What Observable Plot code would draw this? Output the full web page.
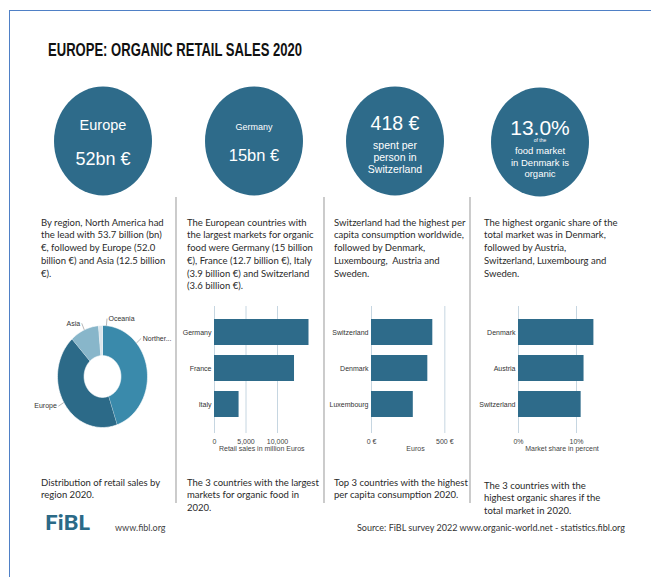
<!DOCTYPE html>
<html><head><meta charset="utf-8">
<script src="https://cdn.jsdelivr.net/npm/d3@7"></script>
<script src="https://cdn.jsdelivr.net/npm/@observablehq/plot@0.6"></script>
<style>
html,body{margin:0;padding:0;background:#fff;}
#page{position:relative;width:651px;height:577px;overflow:hidden;background:#fff;}
.frame{position:absolute;left:9px;top:10px;width:800px;height:800px;border:1.5px solid #4f80c6;box-sizing:border-box;}
.para{position:absolute;font-family:Lato,"Open Sans",sans-serif;font-size:9.5px;line-height:12.8px;color:#2a2a2a;white-space:pre;}
.chart{position:absolute;}
</style></head><body><div id="page"><div class="frame"></div></div>
<script>
// ---------- data ----------
const regions = ["Northern America", "Europe", "Asia", "Oceania"];
const regionSales = [53.7, 52.0, 12.5, 1.7]; // billion €
const marketCountries = ["Germany", "France", "Italy"];
const marketSales = [15000, 12700, 3900]; // million €
const marketTicks = [0, 5000, 10000];
const perCapitaCountries = ["Switzerland", "Denmark", "Luxembourg"];
const perCapita = [418, 384, 285]; // €
const perCapitaTicks = [0, 500];
const shareCountries = ["Denmark", "Austria", "Switzerland"];
const shares = [13.0, 11.3, 10.8]; // %
const shareTicks = [0, 10];
const kpiEurope = 52, kpiGermany = 15, kpiSwiss = 418, kpiDenmark = 13.0;

const title = "EUROPE: ORGANIC RETAIL SALES 2020";
const paragraphs = [
  ["By region, North America had", "the lead with 53.7 billion (bn)", "€, followed by Europe (52.0", "billion €) and Asia (12.5 billion", "€)."],
  ["The European countries with", "the largest markets for organic", "food were Germany (15 billion", "€), France (12.7 billion €), Italy", "(3.9 billion €) and Switzerland", "(3.6 billion €)."],
  ["Switzerland had the highest per", "capita consumption worldwide,", "followed by Denmark,", "Luxembourg,  Austria and", "Sweden."],
  ["The highest organic share of the", "total market was in Denmark,", "followed by Austria,", "Switzerland, Luxembourg and", "Sweden."]
];
const captions = [
  ["Distribution of retail sales by", "region 2020."],
  ["The 3 countries with the largest", "markets for organic food in", "2020."],
  ["Top 3 countries with the highest", "per capita consumption 2020."],
  ["The 3 countries with the", "highest organic shares if the", "total market in 2020."]
];
const source = "Source: FiBL survey 2022 www.organic-world.net - statistics.fibl.org";

// ---------- style ----------
const teal = "#2e6b8a";
const regionColors = ["#3a8aab", "#2c6a88", "#88b6ca", "#dce6ec"];
const page = document.getElementById("page");

// overlay svg (title, bubbles, separators, footer)
const svg = d3.select(page).append("svg").attr("width", 651).attr("height", 577)
  .style("position", "absolute").style("left", 0).style("top", 0);

svg.append("text").attr("x", 48).attr("y", 56).text(title)
  .attr("font-family", "'Liberation Sans Narrow','Liberation Sans',Arial,sans-serif")
  .attr("font-weight", "bold").attr("font-size", 17.5).attr("fill", "#111")
  .attr("textLength", 254).attr("lengthAdjust", "spacingAndGlyphs");

const bubbles = [
  {cx: 103, cy: 141, lines: [["Europe", 125, 14.5], [`${kpiEurope}bn €`, 159, 18]]},
  {cx: 254, cy: 141, lines: [["Germany", 127, 9], [`${kpiGermany}bn €`, 155, 16.5]]},
  {cx: 395, cy: 141, lines: [[`${kpiSwiss} €`, 123, 19.5], ["spent per", 145, 10.5], ["person in", 157, 10.5], ["Switzerland", 168.5, 10.5]]},
  {cx: 540, cy: 142, lines: [[`${kpiDenmark.toFixed(1)}%`, 127, 21], ["of the", 140, 5], ["food market", 150.5, 9.5], ["in Denmark is", 162, 9.5], ["organic", 173.5, 9.5]]}
];
for (const b of bubbles) {
  svg.append("ellipse").attr("cx", b.cx).attr("cy", b.cy).attr("rx", 49).attr("ry", 54.5).attr("fill", teal);
  for (const [t, y, fs] of b.lines) {
    svg.append("text").attr("x", b.cx).attr("y", y).attr("text-anchor", "middle")
      .attr("dominant-baseline", "central").attr("fill", "#fff")
      .attr("font-family", "'Liberation Sans',Arial,sans-serif").attr("font-size", fs).text(t);
  }
}
for (const x of [176, 324, 470]) {
  svg.append("line").attr("x1", x).attr("x2", x).attr("y1", 197).attr("y2", 503)
    .attr("stroke", "#b0b0b0").attr("stroke-width", 1.3);
}
svg.append("text").attr("x", 45).attr("y", 530).text("FiBL")
  .attr("font-family", "Lato,'Open Sans',sans-serif").attr("font-weight", 900)
  .attr("font-size", 21).attr("fill", "#2b6a87").attr("textLength", 45).attr("lengthAdjust", "spacingAndGlyphs");
svg.append("text").attr("x", 115).attr("y", 527).attr("dominant-baseline", "central").text("www.fibl.org")
  .attr("font-family", "Lato,sans-serif").attr("font-size", 9).attr("fill", "#444");
svg.append("text").attr("x", 625).attr("y", 527).attr("dominant-baseline", "central").attr("text-anchor", "end").text(source)
  .attr("font-family", "Lato,sans-serif").attr("font-size", 9.2).attr("fill", "#333")
  .attr("textLength", 268).attr("lengthAdjust", "spacingAndGlyphs");

// paragraphs and captions
const colX = [41, 187, 334, 484];
function addPara(lines, x, top) {
  const d = document.createElement("div");
  d.className = "para";
  d.style.left = x + "px"; d.style.top = top + "px";
  d.textContent = lines.join("\n");
  page.appendChild(d);
}
paragraphs.forEach((p, i) => addPara(p, colX[i], 216.5));
captions.forEach((p, i) => addPara(p, colX[i], i === 3 ? 479.5 : 476.5));

// ---------- donut ----------
const total = d3.sum(regionSales);
let acc = 0;
const slices = regions.map((r, i) => {
  const a0 = acc / total * 360; acc += regionSales[i];
  return {region: r, a0, a1: acc / total * 360};
});
const R = 1, R0 = 0.41;
const rad = a => a * Math.PI / 180;
const pts = [];
for (const s of slices) {
  const n = Math.max(2, Math.ceil((s.a1 - s.a0) / 2));
  for (let k = 0; k <= n; k++) { const a = rad(s.a0 + (s.a1 - s.a0) * k / n); pts.push({region: s.region, x: Math.sin(a) * R, y: Math.cos(a) * R}); }
  for (let k = n; k >= 0; k--) { const a = rad(s.a0 + (s.a1 - s.a0) * k / n); pts.push({region: s.region, x: Math.sin(a) * R0, y: Math.cos(a) * R0}); }
}
const labelAngleOverride = {"Northern America": 49, "Oceania": 5};
const labels = slices.map(s => {
  const ang = rad(labelAngleOverride[s.region] ?? (s.a0 + s.a1) / 2);
  const name = s.region.length > 10 ? s.region.slice(0, 7) + "..." : s.region;
  return {name, right: Math.sin(ang) >= 0,
    x1: Math.sin(ang) * 1.0, y1: Math.cos(ang) * 1.0,
    x2: Math.sin(ang) * 1.14, y2: Math.cos(ang) * 1.14};
});
const donut = Plot.plot({
  width: 150, height: 150, margin: 0,
  style: {fontFamily: "'Liberation Sans',Arial,sans-serif", fontSize: "7px", background: "transparent", overflow: "visible"},
  x: {domain: [-70 / 45, 80 / 45], range: [0, 150], axis: null},
  y: {domain: [-75 / 51, 75 / 51], range: [150, 0], axis: null},
  color: {domain: regions, range: regionColors},
  marks: [
    Plot.line(pts, {x: "x", y: "y", z: "region", fill: "region", stroke: "#fff", strokeWidth: 0.6, curve: "linear"}),
    Plot.link(labels, {x1: "x1", y1: "y1", x2: "x2", y2: "y2", stroke: "#999", strokeWidth: 0.7}),
    Plot.text(labels.filter(d => d.right), {x: "x2", y: "y2", text: "name", textAnchor: "start", dx: 1.5, fill: "#333"}),
    Plot.text(labels.filter(d => !d.right), {x: "x2", y: "y2", text: "name", textAnchor: "end", dx: -1.5, fill: "#333"})
  ]
});
const dd = document.createElement("div"); dd.className = "chart";
dd.style.left = (102 - 70) + "px"; dd.style.top = (376 - 75) + "px";
dd.appendChild(donut); page.appendChild(dd);

// ---------- bar charts ----------
function barChart({cats, vals, domain, ticks, fmt, label, left, marginLeft, frameW}) {
  const top = 300, H = 160, mt = 6, mb = 27, mr = 14;
  const data = cats.map((c, i) => ({c, v: vals[i]}));
  const p = Plot.plot({
    width: marginLeft + frameW + mr, height: H,
    marginTop: mt, marginBottom: mb, marginLeft, marginRight: mr,
    style: {fontFamily: "'Liberation Sans',Arial,sans-serif", fontSize: "7px", color: "#333", background: "transparent", overflow: "visible"},
    x: {domain},
    y: {domain: cats, range: [310.6 - top, 426.4 - top], paddingInner: 0.27, paddingOuter: 0.2},
    marks: [
      Plot.ruleX(ticks, {stroke: "#c6d6e1", strokeWidth: 1}),
      Plot.barX(data, {x: "v", y: "c", fill: teal}),
      Plot.axisY({tickSize: 0, tickPadding: 3, label: null, fill: "#333"}),
      Plot.axisX({ticks, tickSize: 0, tickPadding: 5.5, tickFormat: fmt, label: null, fill: "#444"}),
      Plot.text([label], {frameAnchor: "bottom", dy: 17, text: d => d, fill: "#444"})
    ]
  });
  const d = document.createElement("div"); d.className = "chart";
  d.style.left = left + "px"; d.style.top = top + "px";
  d.appendChild(p); page.appendChild(d);
}
barChart({cats: marketCountries, vals: marketSales, domain: [0, 15000], ticks: marketTicks,
  fmt: d3.format(","), label: "Retail sales in million Euros", left: 176, marginLeft: 38, frameW: 94.5});
barChart({cats: perCapitaCountries, vals: perCapita, domain: [0, 600], ticks: perCapitaTicks,
  fmt: d => d + " €", label: "Euros", left: 326, marginLeft: 45, frameW: 88});
barChart({cats: shareCountries, vals: shares, domain: [0, 15], ticks: shareTicks,
  fmt: d => d + "%", label: "Market share in percent", left: 472, marginLeft: 46, frameW: 87});
</script></body></html>
